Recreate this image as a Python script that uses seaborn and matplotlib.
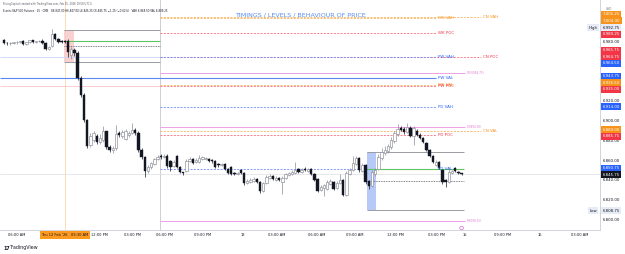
import matplotlib
matplotlib.use("Agg")
import matplotlib.pyplot as plt
import matplotlib.transforms as mtransforms
from matplotlib.patches import Rectangle
import seaborn as sns
import numpy as np

###################################################################
# ES 15 min bars, Thu 12 Feb -> Fri 13 Feb 2026

opens = [6982, 6979, 6978.5, 6979, 6979.5, 6980, 6981, 6978, 6980, 6981.5,
         6979.5, 6980.5, 6981, 6979, 6973, 6976, 6988, 6983, 6981, 6981,
         6981, 6967, 6972, 6969, 6943, 6926, 6901, 6875, 6880, 6884,
         6878, 6880, 6889, 6873, 6870, 6872, 6887, 6884, 6881, 6885,
         6887, 6891, 6887, 6870, 6863, 6849, 6853, 6856, 6861, 6864,
         6863, 6864, 6859, 6854, 6864, 6853, 6847.5, 6849, 6859, 6861,
         6858, 6858, 6861, 6861, 6861, 6860, 6859, 6856, 6855, 6856,
         6851, 6853, 6847, 6846, 6850, 6847, 6837, 6838, 6839, 6841,
         6838, 6829, 6837, 6842, 6844, 6840, 6842, 6838, 6842, 6845,
         6846, 6847, 6851, 6848, 6851, 6849, 6851, 6846, 6841, 6830,
         6832, 6831, 6836, 6838, 6832, 6837, 6840, 6825, 6846, 6850,
         6856, 6862, 6849, 6855, 6839, 6834, 6846, 6851, 6862, 6867,
         6869, 6873, 6879, 6886, 6893, 6892, 6888, 6893, 6884, 6890,
         6885, 6882, 6877, 6870, 6864, 6855, 6858, 6850, 6840, 6838,
         6847, 6852, 6848, 6847]
highs = [6983, 6980, 6980, 6980, 6981, 6981, 6982, 6980, 6982, 6982,
         6981, 6982, 6983, 6979.5, 6976, 6992.75, 6989, 6984, 6982, 6982,
         6983, 6975, 6974, 6971, 6945, 6928, 6902, 6887, 6890, 6886,
         6886, 6895, 6890, 6875, 6874, 6896, 6889, 6891, 6892, 6890,
         6898, 6893, 6890, 6872, 6864, 6855, 6858, 6862, 6865, 6866,
         6866, 6866, 6860, 6860, 6865, 6854, 6848, 6861, 6863, 6862,
         6862, 6865, 6864, 6863, 6862, 6861, 6860, 6857, 6857, 6857,
         6852, 6854, 6848, 6848, 6851, 6848, 6841, 6842, 6843, 6842,
         6839, 6838, 6845, 6846, 6845, 6844, 6843, 6844, 6847, 6848,
         6850, 6858, 6852, 6852, 6853, 6852, 6852, 6847, 6842, 6835,
         6836, 6840, 6841, 6839, 6839, 6846, 6841, 6849, 6852, 6864,
         6864, 6863, 6857, 6856, 6840, 6850, 6852, 6866, 6872, 6874,
         6876, 6883, 6890, 6897, 6895, 6894, 6898, 6895, 6895, 6892,
         6887, 6883, 6878, 6871, 6865, 6860, 6859, 6851, 6841, 6853,
         6850, 6853, 6849, 6847]
lows = [6978, 6977, 6977, 6978, 6978, 6979, 6977, 6977, 6979, 6979,
        6979, 6980, 6978, 6972, 6972, 6975, 6982, 6979, 6979, 6979,
        6965, 6963, 6966, 6941, 6924, 6899, 6872, 6873, 6878, 6876,
        6876, 6878, 6871, 6868, 6867, 6870, 6883, 6882, 6880, 6883,
        6886, 6885, 6868, 6861, 6843, 6847, 6851, 6855, 6860, 6861,
        6862, 6852, 6849, 6853, 6852, 6847, 6845, 6848, 6858, 6856,
        6857, 6857, 6860, 6860, 6858, 6857, 6852, 6853, 6854, 6850,
        6846, 6845, 6845, 6845, 6846, 6835, 6836, 6837, 6838, 6837,
        6827, 6828, 6836, 6841, 6840, 6839, 6839, 6826, 6841, 6844,
        6845, 6846, 6847, 6847, 6849, 6848, 6845, 6839, 6828, 6829,
        6824, 6830, 6835, 6830, 6831, 6836, 6824, 6824, 6845, 6849,
        6855, 6848, 6848, 6836, 6831, 6833, 6844, 6850, 6860, 6865,
        6867, 6871, 6877, 6884, 6889, 6886, 6887, 6883, 6875, 6884,
        6881, 6877, 6869, 6863, 6857, 6854, 6851, 6836, 6833, 6837,
        6846, 6848, 6846, 6845.25]
closes = [6979, 6978.5, 6979, 6979.5, 6980, 6980.5, 6978, 6980, 6981.5, 6979.5,
          6980.5, 6981, 6979, 6973, 6975, 6988, 6983, 6980, 6980, 6980,
          6970, 6973, 6969, 6943, 6926, 6901, 6874, 6884, 6887, 6878,
          6882, 6889, 6873, 6870, 6872, 6886, 6885, 6888, 6889, 6887,
          6891, 6887, 6870, 6863, 6849, 6853, 6857, 6861, 6863, 6863,
          6864, 6854, 6853, 6858, 6853, 6848, 6846.5, 6859, 6861, 6857,
          6860, 6862, 6863, 6862, 6859, 6859, 6853, 6855, 6856, 6851,
          6847, 6846, 6846, 6847, 6847, 6837, 6839, 6840, 6841, 6838,
          6829, 6837, 6843, 6844, 6841, 6842, 6840, 6842, 6846, 6847,
          6848, 6850, 6848, 6850, 6850, 6851, 6846, 6840, 6829, 6833,
          6835, 6838, 6839, 6831, 6837, 6840, 6825, 6847, 6850, 6857,
          6862, 6850, 6855, 6838, 6834, 6848, 6850, 6863, 6868, 6870,
          6874, 6880, 6887, 6892, 6891, 6888, 6894, 6884, 6893, 6885,
          6882, 6878, 6870, 6864, 6858, 6858, 6852, 6838, 6838, 6848,
          6849, 6849, 6847, 6845.75]

# key levels (value area / POC of current, weekly, prior week, prior day)
level_names = ["CN VAH", "WK VAH", "WK POC", "CN POC", "PW VAH", "PW VAL",
               "WK VAL", "PW POC", "PD VAH", "CN VAL", "PD POC", "PD VAL"]
level_prices = [7005.25, 7004.00, 6989.25, 6964.75, 6964.50, 6943.75,
                6936.50, 6935.00, 6914.00, 6889.00, 6885.75, 6850.75]

# fib of the move
fib_labels = ["0.5(6948.75)", "1(6894.00)", "0(6798.25)"]
fib_prices = [6948.75, 6894.00, 6798.25]

# opening range boxes: top, mid, dotted, bottom
thu_box = [6992.25, 6981.00, 6975.75, 6959.25]
fri_box = [6868.50, 6851.25, 6838.75, 6809.25]

extra_tag_prices = [6965.75]
day_high = 6992.75
day_low = 6808.75

time_labels = ["06:00 AM", "12:00 PM", "03:00 PM", "06:00 PM", "09:00 PM", "13",
               "03:00 AM", "06:00 AM", "09:00 AM", "12:00 PM", "03:00 PM", "15",
               "09:00 PM", "16", "03:00 AM"]
time_px = [17, 99, 133, 165, 203, 243, 277, 317, 355, 395, 437, 465, 503, 540, 580]
cursor_label = "Thu 12 Feb '26   09:30 AM"

###################################################################

ORANGE, RED, BLUE = "#f7931a", "#f23645", "#2962ff"
LINE_OR, LINE_RED, LINE_BLUE = "#f9b463", "#f5707e", "#6f8ff2"
PINK = "#f0a0e6"
DARK = "#131722"
W, H = 625, 254


def bx(px):
    # pixel column -> bar index (first bar at 4 px, 3.2 px per bar)
    return (px - 4) / 3.2


def lvl_colors(name):
    if "POC" in name:
        return LINE_RED, RED
    if name.startswith(("WK", "CN")):
        return LINE_OR, ORANGE
    return LINE_BLUE, BLUE


def spread(vals, gap):
    pos = list(vals)
    for _ in range(300):
        moved = False
        order = list(np.argsort(pos)[::-1])
        for a, b in zip(order[:-1], order[1:]):
            d = pos[a] - pos[b]
            if d < gap - 1e-6:
                s = (gap - d) / 2
                pos[a] += s
                pos[b] -= s
                moved = True
        if not moved:
            break
    return pos


sns.set_theme(style="white")
plt.rcParams["font.family"] = ["DejaVu Sans"]

fig = plt.figure(figsize=(W / 100, H / 100), dpi=100)
fig.patch.set_facecolor("white")
ax = fig.add_axes([0, 24 / H, 600 / W, 230 / H])
ax.set_facecolor("white")
ax.set_xlim(bx(0), bx(600))
ax.set_ylim(6789.0, 7022.5)
sns.despine(ax=ax, left=True, top=True, right=False, bottom=False)
for s in ("right", "bottom"):
    ax.spines[s].set_color("#d1d4dc")
    ax.spines[s].set_linewidth(0.7)

# candles
idx = np.arange(len(closes))
o, h, l, c = (np.asarray(v, float) for v in (opens, highs, lows, closes))
up = c >= o
ax.vlines(idx, l, h, colors=np.where(up, "#8a8d97", DARK), lw=0.5, zorder=4)
body_lo = np.minimum(o, c)
body_h = np.maximum(np.abs(c - o), 0.5)
ax.bar(idx[up], body_h[up], bottom=body_lo[up], width=0.72, color="white",
       edgecolor="#8a8d97", lw=0.45, zorder=5)
ax.bar(idx[~up], body_h[~up], bottom=body_lo[~up], width=0.72, color=DARK,
       edgecolor=DARK, lw=0.3, zorder=5)

# session separators / crosshair / last price line
ax.axvline(bx(160), color="#c4c7ce", lw=0.6, zorder=1)
ax.axvline(19, color="#fbd7ad", lw=0.6, zorder=1)
ax.axhline(closes[-1], color="#dcdee4", lw=0.5, zorder=1)

# previous week lines extended through the left part
ax.hlines(level_prices[level_names.index("PW VAH")], bx(0), bx(160), color="#c9d6fb", lw=0.6, zorder=2)
ax.hlines(level_prices[level_names.index("PW POC")], bx(0), bx(160), color="#f8c4ca", lw=0.6, zorder=2)
ax.hlines(level_prices[level_names.index("PW VAL")], bx(0), bx(436), color="#5b85f0", lw=0.8, zorder=2)

# key level dashed lines + labels
for name, p in zip(level_names, level_prices):
    lc, tc = lvl_colors(name)
    end = 481 if name.startswith("CN") else 436
    if name != "PW VAL":
        ax.hlines(p, bx(160), bx(end), color=lc, lw=0.6, linestyles=(0, (2.5, 1.5)), zorder=2)
    ax.text(bx(end + 2), p, name, color=tc, fontsize=2.9, va="center", ha="left", zorder=6)

# fib lines
for lab, p in zip(fib_labels, fib_prices):
    ax.hlines(p, bx(160), bx(465), color=PINK, lw=0.7, zorder=2)
    ax.text(bx(467), p, lab, color="#e07ad6", fontsize=2.0, va="center", ha="left")

# opening range boxes
for box, b0, b1, shade in ((thu_box, 64, 160, "#f8c9c9"), (fri_box, 367, 464, "#a9c0f6")):
    top, mid, dot, bot = box
    ax.add_patch(Rectangle((bx(b0), bot), bx(b0 + 9.5) - bx(b0), top - bot,
                           facecolor=shade, edgecolor="none", alpha=0.85, zorder=1.5))
    ax.hlines([top, bot], bx(b0), bx(b1), color="#9a9ca3", lw=0.7, zorder=3)
    ax.hlines(mid, bx(b0), bx(b1), color="#5cc462", lw=0.8, zorder=3)
    ax.hlines(dot, bx(b0), bx(b1), color="#555862", lw=0.6, linestyles=(0, (1, 1)), zorder=3)

# time axis
ax.set_xticks([bx(p) for p in time_px])
ax.set_xticklabels(time_labels)
ax.tick_params(axis="x", length=0, pad=2.2, labelsize=2.6, colors=DARK)
trans_xa = mtransforms.blended_transform_factory(ax.transData, ax.transAxes)
ax.text(19, -5 / 230, cursor_label, transform=trans_xa, ha="center", va="center",
        fontsize=2.6, color=DARK, clip_on=False, zorder=10,
        bbox=dict(boxstyle="square,pad=0.45", fc="#ff9a1f", ec="none"))
# session event marker above the last bar
ax.scatter([len(closes) - 1], [2 / 230], transform=trans_xa, s=7, marker="o",
           facecolor="none", edgecolor="#d36fd0", lw=0.5, zorder=8, clip_on=False)

# price axis
ax.yaxis.tick_right()
yt = np.arange(6800, 6981, 20)
ax.set_yticks(yt)
ax.set_yticklabels([f"{v:,.2f}" for v in yt])
ax.tick_params(axis="y", length=0, pad=2, labelsize=2.8, colors=DARK)

# price tags on the scale, stacked like TradingView does
tag_p, tag_fc, tag_tc = [], [], []
for name, p in zip(level_names, level_prices):
    tag_p.append(p)
    tag_fc.append(lvl_colors(name)[1])
    tag_tc.append("white")
for p in extra_tag_prices:
    tag_p.append(p)
    tag_fc.append(RED)
    tag_tc.append("white")
tag_p += [day_high, day_low, closes[-1]]
tag_fc += ["#e6ebf5", "#e6ebf5", DARK]
tag_tc += [DARK, DARK, "white"]

trans_ay = mtransforms.blended_transform_factory(ax.transAxes, ax.transData)
shown = spread(tag_p, 6.6)
for p, y, fc, tc in zip(tag_p, shown, tag_fc, tag_tc):
    ax.text(602.5 / 600, y, f"{p:,.2f}", transform=trans_ay, fontsize=2.8, color=tc,
            va="center", ha="left", clip_on=False, zorder=10,
            bbox=dict(boxstyle="square,pad=0.4", fc=fc, ec="none"))
for word, p in (("High", day_high), ("Low", day_low)):
    y = shown[tag_p.index(p)]
    ax.text(593 / 600, y, word, transform=trans_ay, fontsize=2.8, color=DARK,
            va="center", ha="center", clip_on=False, zorder=10,
            bbox=dict(boxstyle="square,pad=0.4", fc="#e6ebf5", ec="none"))
fig.text(606 / W, 1 - 9 / H, "USD", fontsize=2.2, color="#787b86", va="center")

# title and header
fig.text(300.5 / W, 1 - 14.7 / H, "TIMINGS / LEVELS / BEHAVIOUR OF PRICE",
         fontsize=4.6, color="#5a8cf2", ha="center", va="center")
fig.text(3 / W, 1 - 4 / H,
         "RisingCapital created with TradingView.com, Feb 15, 2026 19:58 UTC-5",
         fontsize=1.8, color="#555862", va="center")
fig.text(3 / W, 1 - 10.5 / H,
         "E-mini S&P 500 Futures \u00b7 15 \u00b7 CME   O6,847.00 H6,847.00 L6,845.25 "
         "C6,845.75 \u22121.25 (\u22120.02%)   VAH 6,868.50 VAL 6,809.25",
         fontsize=1.9, color=DARK, va="center")

# footer logo
fig.text(3 / W, 1 - 248 / H, "17", fontsize=3.4, weight="bold", color=DARK, va="center")
fig.text(10 / W, 1 - 248 / H, "TradingView", fontsize=3.4, color=DARK, va="center")

fig.savefig("out.png", dpi=100, facecolor="white")
